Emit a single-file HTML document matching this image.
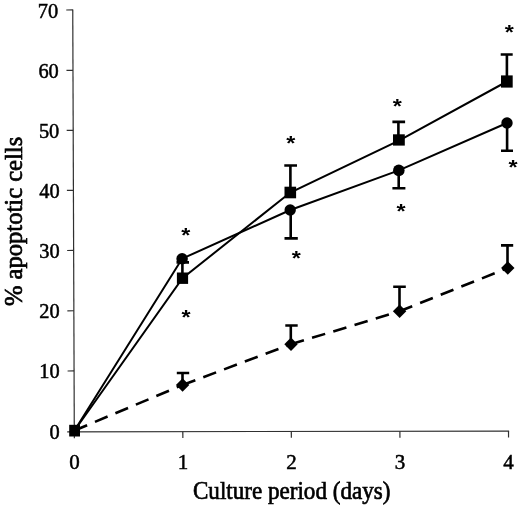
<!DOCTYPE html>
<html lang="en">
<head>
<meta charset="utf-8">
<title>Apoptotic cells vs culture period</title>
<style>
  html, body { margin: 0; padding: 0; background: #ffffff; }
  body { width: 520px; height: 508px; overflow: hidden; }
  svg { display: block; will-change: transform; }
  text { font-family: "Liberation Serif", "Times New Roman", serif; fill: #000; }
  .tick { font-size: 20.4px; stroke: #000; stroke-width: 0.5px; }
  .ttl { stroke: #000; stroke-width: 0.7px; }
  .ax { stroke: #303030; stroke-width: 1.2; fill: none; }
  .ln { stroke: #000; stroke-width: 2; fill: none; }
  .dash { stroke: #000; stroke-width: 2.6; fill: none; stroke-dasharray: 13.7 8.5; }
  .eb { stroke: #000; stroke-width: 2.6; fill: none; }
  .mk { fill: #000; stroke: none; }
  .star text { font-family: "Liberation Sans", Arial, sans-serif; font-size: 20.8px; font-weight: bold; text-anchor: middle; }
</style>
</head>
<body>
<svg width="520" height="508" viewBox="0 0 520 508">
  <rect width="520" height="508" fill="#ffffff"/>

  <!-- axes -->
  <g class="ax">
    <line x1="72.75" y1="9.4" x2="74.3" y2="431.9"/>
    <line x1="67.2" y1="431.85" x2="509.1" y2="431.05"/>
    <line x1="66.25" y1="10.0" x2="72.75" y2="9.95"/>
    <line x1="66.47" y1="70.4" x2="72.97" y2="70.35"/>
    <line x1="66.69" y1="130.4" x2="73.19" y2="130.35"/>
    <line x1="66.91" y1="190.4" x2="73.41" y2="190.35"/>
    <line x1="67.13" y1="250.5" x2="73.63" y2="250.45"/>
    <line x1="67.36" y1="310.8" x2="73.86" y2="310.75"/>
    <line x1="67.58" y1="371.0" x2="74.08" y2="370.95"/>
    <line x1="74.3" y1="431.84" x2="74.35" y2="438.24"/>
    <line x1="182.8" y1="431.64" x2="182.85" y2="438.04"/>
    <line x1="291.3" y1="431.44" x2="291.35" y2="437.84"/>
    <line x1="399.9" y1="431.25" x2="399.95" y2="437.65"/>
    <line x1="508.5" y1="431.05" x2="508.55" y2="437.45"/>
  </g>



  <!-- y tick labels -->
  <g class="tick" text-anchor="end">
    <text transform="translate(58.2 17.7)">70</text>
    <text transform="translate(58.8 77.8)">60</text>
    <text transform="translate(59.3 137.8)">50</text>
    <text transform="translate(59.6 197.8)">40</text>
    <text transform="translate(59.6 257.8)">30</text>
    <text transform="translate(59.6 318.0)">20</text>
    <text transform="translate(59.6 378.2)">10</text>
    <text transform="translate(59.6 439.4)">0</text>
  </g>

  <!-- x tick labels -->
  <g class="tick" text-anchor="middle">
    <text transform="translate(74.6 468.8) scale(1.03 1)">0</text>
    <text transform="translate(182.9 468.8) scale(1.03 1)">1</text>
    <text transform="translate(291.5 468.8) scale(1.03 1)">2</text>
    <text transform="translate(400.1 468.8) scale(1.03 1)">3</text>
    <text transform="translate(508.5 468.8) scale(1.03 1)">4</text>
  </g>

  <!-- axis titles -->
  <text class="ttl" x="291.7" y="499.3" font-size="26" text-anchor="middle" textLength="197.5" lengthAdjust="spacingAndGlyphs">Culture period (days)</text>
  <text class="ttl" transform="translate(21.9 221.4) rotate(-90)" font-size="25" text-anchor="middle" textLength="169.3" lengthAdjust="spacingAndGlyphs">% apoptotic cells</text>

  <!-- dashed series (diamonds) -->
  <g class="dash">
    <line x1="74.5" y1="430.5" x2="182.5" y2="385"/>
    <line x1="182.5" y1="385" x2="290.8" y2="344.3"/>
    <line x1="290.8" y1="344.3" x2="399.5" y2="311.3"/>
    <line x1="399.5" y1="311.3" x2="507.8" y2="268"/>
  </g>
  <!-- square series -->
  <polyline class="ln" points="74.5,430.5 182.5,278.2 290.3,192.5 398.9,140.6 507,81.5"/>
  <!-- circle series -->
  <polyline class="ln" points="74.5,430.5 182.1,258.7 290.3,210 398.8,170.4 507,123"/>

  <!-- error bars -->
  <g class="eb">
    <!-- squares: up -->
    <path d="M290.4 192.5V165.5M284.3 165.5H297"/>
    <path d="M398.4 140V121.9M392.4 121.9H405.1"/>
    <path d="M506.9 81.5V54.5M500.7 54.5H512.7"/>
    <!-- circles: down -->
    <path d="M182.4 258V278M176.5 262.4H189"/>
    <path d="M290.7 210V238.4M284.5 238.4H297.8"/>
    <path d="M398.7 170.5V188.3M392.4 188.3H405.4"/>
    <path d="M507.1 123V150.7M501 150.7H513"/>
    <!-- diamonds: up -->
    <path d="M182.5 385V373M176.8 373H189.2"/>
    <path d="M290.8 344.3V325.5M285.3 325.5H297.7"/>
    <path d="M399.5 311.3V286.8M393.2 286.8H405.8"/>
    <path d="M507.5 268V245.4M501 245.4H513.2"/>
  </g>

  <!-- markers -->
  <g class="mk">
    <!-- squares -->
    <rect x="69.2" y="424.8" width="10.8" height="11.7"/>
    <rect x="176.9" y="272.5" width="11.2" height="11.4"/>
    <rect x="284.5" y="186.7" width="11.6" height="11.6"/>
    <rect x="393" y="134.3" width="11.8" height="11.3"/>
    <rect x="501" y="75.4" width="11.7" height="12.2"/>
    <!-- circles -->
    <circle cx="182.1" cy="258.7" r="5.75"/>
    <circle cx="290.2" cy="210" r="5.7"/>
    <circle cx="398.8" cy="170.4" r="5.8"/>
    <circle cx="507" cy="123" r="5.7"/>
    <!-- diamonds -->
    <path d="M182.6 378.3L189.3 385.0L182.6 391.7L175.9 385.0Z"/>
    <path d="M291.0 337.6L297.7 344.3L291.0 351.0L284.3 344.3Z"/>
    <path d="M399.6 304.6L406.3 311.3L399.6 318.0L392.9 311.3Z"/>
    <path d="M507.8 261.3L514.5 268.0L507.8 274.7L501.1 268.0Z"/>
  </g>

  <!-- significance stars -->
  <g class="star">
    <text transform="translate(185.8 242.0) scale(1.12 1)">*</text>
    <text transform="translate(186.0 323.9) scale(1.12 1)">*</text>
    <text transform="translate(290.8 150.4) scale(1.12 1)">*</text>
    <text transform="translate(296.3 265.3) scale(1.12 1)">*</text>
    <text transform="translate(397.2 113.4) scale(1.12 1)">*</text>
    <text transform="translate(401.0 218.2) scale(1.12 1)">*</text>
    <text transform="translate(509.3 38.7) scale(1.12 1)">*</text>
    <text transform="translate(513.1 173.8) scale(1.12 1)">*</text>
  </g>
</svg>
</body>
</html>
